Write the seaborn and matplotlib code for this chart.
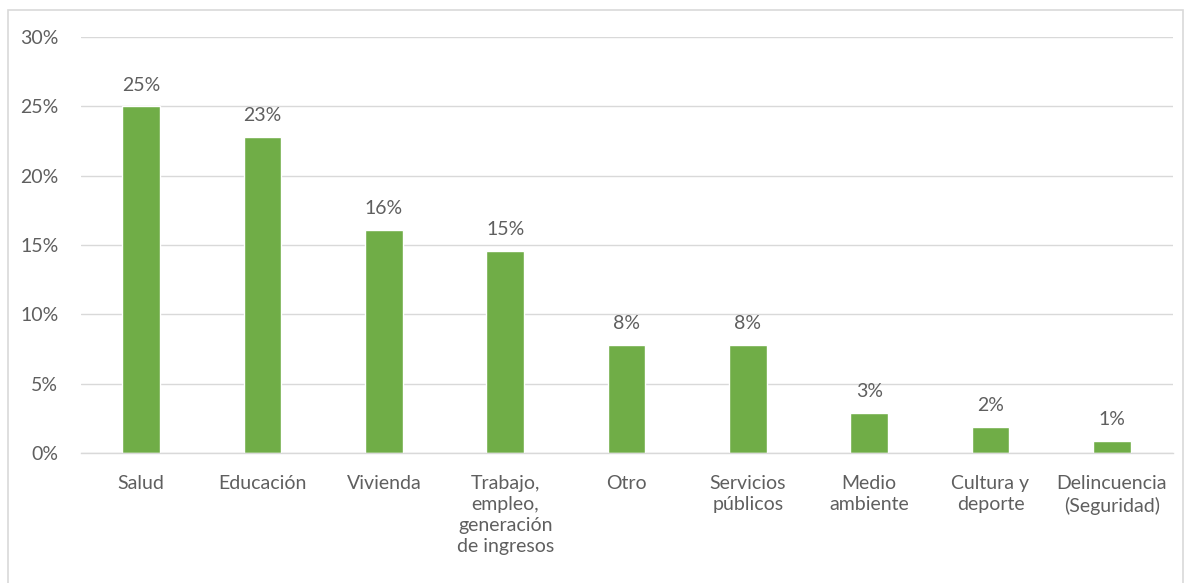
import matplotlib
matplotlib.use("Agg")
import matplotlib.pyplot as plt
import seaborn as sns
import pandas as pd
from matplotlib.patches import Rectangle
from matplotlib.ticker import FuncFormatter

categories = ["Salud", "Educación", "Vivienda", "Trabajo,\nempleo,\ngeneración\nde ingresos",
              "Otro", "Servicios\npúblicos", "Medio\nambiente", "Cultura y\ndeporte",
              "Delincuencia\n(Seguridad)"]
values = [25.0, 22.8, 16.1, 14.6, 7.8, 7.8, 2.9, 1.9, 0.9]
y_ticks = [0, 5, 10, 15, 20, 25, 30]

sns.set_theme(style="white")
plt.rcParams['font.family'] = ['Lato', 'DejaVu Sans']

green = "#70AD47"
gray_text = "#5f5f5f"
grid = "#D9D9D9"
fs = 14

df = pd.DataFrame({"cat": categories, "val": values})

fig = plt.figure(figsize=(11.86, 5.83), dpi=100)
fig.patches.append(Rectangle((8/1186, -0.05), 1 - 11/1186, 1.05 - 10/583, transform=fig.transFigure,
                             fill=False, edgecolor="#D9D9D9", linewidth=1.2))
ax = fig.add_axes([80.5/1186, 1 - 453/583, (1172.5 - 80.5)/1186, (453 - 37)/583])

sns.barplot(data=df, x="cat", y="val", color=green, width=0.31, ax=ax, saturation=1)

ax.set_ylim(0, 30)
ax.set_xlim(-0.5, len(categories) - 0.5)
ax.set_yticks(y_ticks)
ax.yaxis.set_major_formatter(FuncFormatter(lambda v, p: f"{int(v)}%"))
ax.yaxis.grid(True, color=grid, linewidth=1)
ax.set_axisbelow(True)
for s in ["top", "right", "left"]:
    ax.spines[s].set_visible(False)
ax.spines["bottom"].set_color(grid)
ax.spines["bottom"].set_linewidth(1)
ax.set_xlabel("")
ax.set_ylabel("")
ax.tick_params(axis="y", length=0, pad=16, labelsize=fs, labelcolor=gray_text)
ax.tick_params(axis="x", length=0, pad=16, labelsize=fs, labelcolor=gray_text)
for lbl in ax.get_xticklabels():
    lbl.set_linespacing(1.28)
    lbl.set_verticalalignment("top")

for c in ax.containers:
    ax.bar_label(c, labels=[f"{round(v):d}%" for v in values], padding=9,
                 fontsize=fs, color=gray_text)

fig.savefig("out.png", dpi=100)
